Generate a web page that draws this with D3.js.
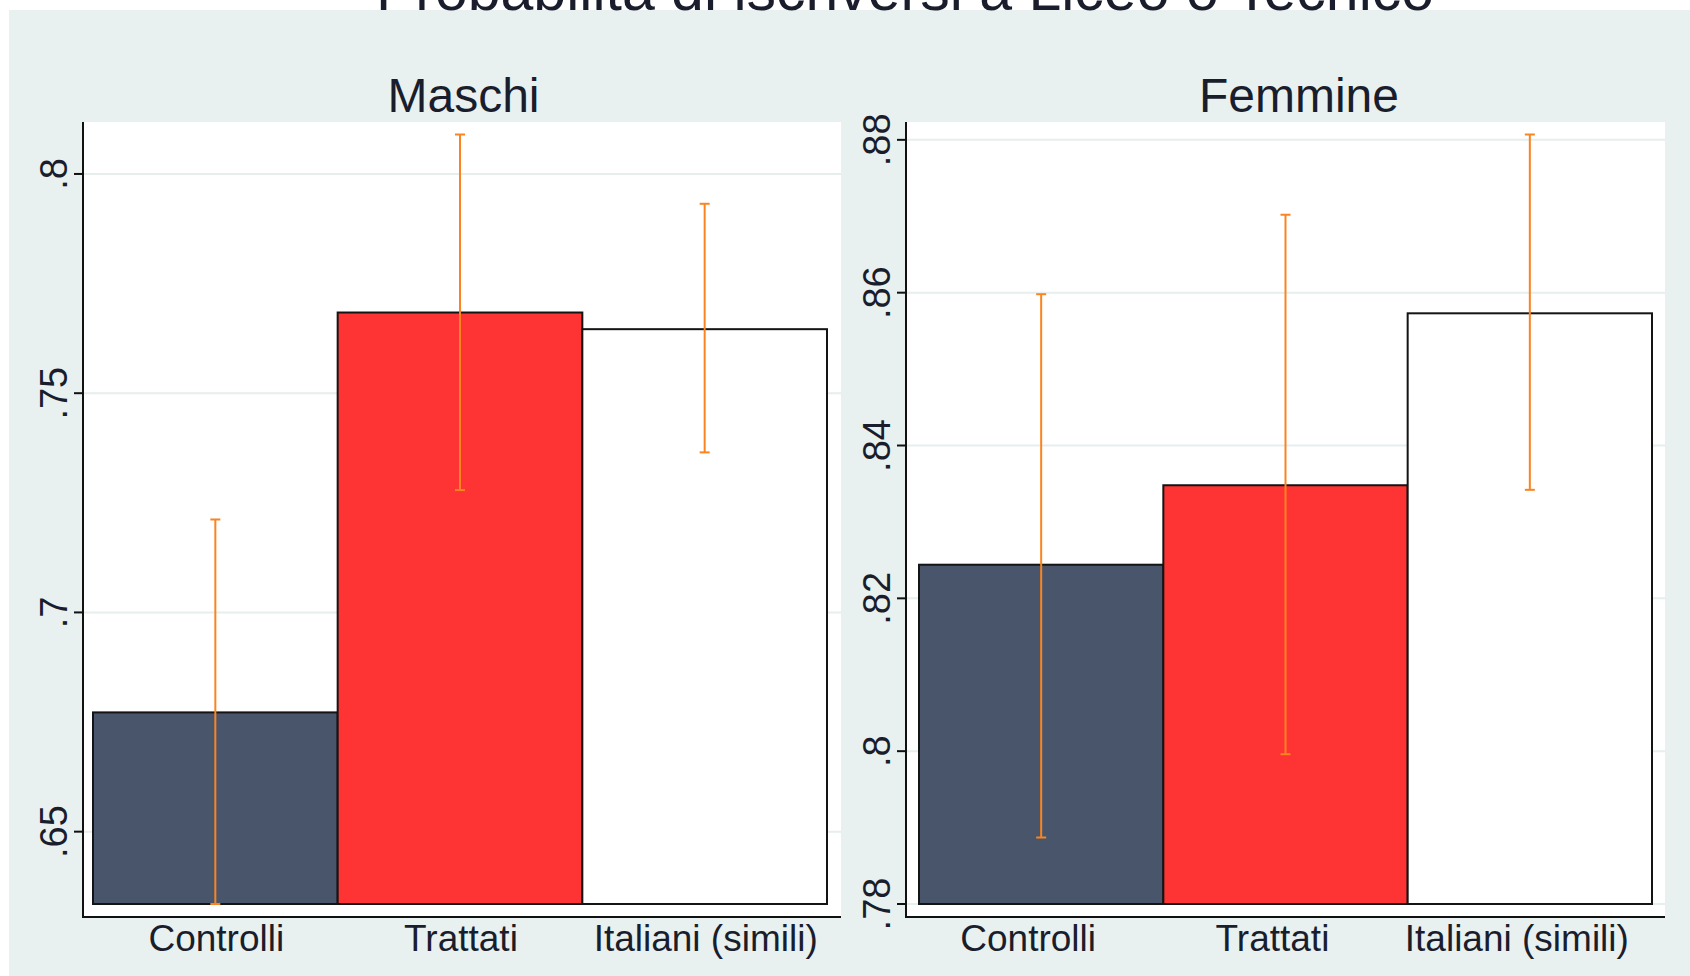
<!DOCTYPE html>
<html>
<head>
<meta charset="utf-8">
<script src="https://cdn.jsdelivr.net/npm/d3@7"></script>
<style>
  body { margin: 0; background: #fff; }
  text { font-family: "Liberation Sans", Arial, sans-serif; fill: #1a1e2c; }
</style>
</head>
<body>
<div id="chart"></div>
<script>
// data
const categories = ["Controlli", "Trattati", "Italiani (simili)"];
const panelTitles = ["Maschi", "Femmine"];

const maschiMean = [0.6772, 0.7684, 0.7646];
const maschiLo = [0.6335, 0.7279, 0.7365];
const maschiHi = [0.7212, 0.8090, 0.7932];
const maschiTicks = [0.65, 0.7, 0.75, 0.8];

const femmineMean = [0.8244, 0.8348, 0.8573];
const femmineLo = [0.7887, 0.7996, 0.8342];
const femmineHi = [0.8598, 0.8702, 0.8807];
const femmineTicks = [0.78, 0.8, 0.82, 0.84, 0.86, 0.88];

const barColors = ["#48556b", "#fe3333", "#ffffff"];
const ciColor = "#fb8420";

const width = 1690, height = 976;

const svg = d3.select("#chart")
  .append("svg")
  .attr("width", width)
  .attr("height", height);

// outer graph region
svg.append("rect")
  .attr("x", 9).attr("y", 10)
  .attr("width", width - 9).attr("height", height - 10)
  .attr("fill", "#e9f1f0");

// main title (cut off at the top in the original)
svg.append("text")
  .attr("x", 905).attr("y", 10)
  .attr("text-anchor", "middle")
  .style("font-size", "59px")
  .text("Probabilità di iscriversi a Liceo o Tecnico");

const panels = [
  { title: panelTitles[0], mean: maschiMean, lo: maschiLo, hi: maschiHi, ticks: maschiTicks,
    x0: 83, x1: 841, padL: 10, padR: 14, titleX: 463.5, labelShift: 1 },
  { title: panelTitles[1], mean: femmineMean, lo: femmineLo, hi: femmineHi, ticks: femmineTicks,
    x0: 906, x1: 1665, padL: 13, padR: 13, titleX: 1299, labelShift: -13 }
];

const plotTop = 122, axisY = 917;
const dataTop = 134.5, dataBottom = 904;
const fmt = v => String(+v.toFixed(2)).replace(/^0/, "");

panels.forEach(p => {
  const g = svg.append("g");

  const y = d3.scaleLinear()
    .domain(d3.extent([...p.lo, ...p.hi, ...p.ticks]))
    .range([dataBottom, dataTop]);

  const x = d3.scaleBand()
    .domain(categories)
    .range([p.x0 + p.padL, p.x1 - p.padR])
    .padding(0);

  // plot region
  g.append("rect")
    .attr("x", p.x0).attr("y", plotTop)
    .attr("width", p.x1 - p.x0).attr("height", axisY - plotTop)
    .attr("fill", "#fff");

  // grid lines
  g.selectAll(".grid")
    .data(p.ticks)
    .join("line")
    .attr("x1", p.x0).attr("x2", p.x1)
    .attr("y1", d => y(d)).attr("y2", d => y(d))
    .attr("stroke", "#e6eeee")
    .attr("stroke-width", 2);

  // bars
  const base = y.domain()[0];
  g.selectAll(".bar")
    .data(categories)
    .join("rect")
    .attr("x", d => x(d))
    .attr("y", (d, i) => y(p.mean[i]))
    .attr("width", x.bandwidth())
    .attr("height", (d, i) => y(base) - y(p.mean[i]))
    .attr("fill", (d, i) => barColors[i])
    .attr("stroke", "#141414")
    .attr("stroke-width", 2);

  // confidence intervals
  const ci = g.selectAll(".ci")
    .data(categories)
    .join("g")
    .attr("transform", d => `translate(${x(d) + x.bandwidth() / 2},0)`);
  ci.append("line")
    .attr("y1", (d, i) => y(p.lo[i])).attr("y2", (d, i) => y(p.hi[i]))
    .attr("stroke", ciColor).attr("stroke-width", 2);
  ci.append("line")
    .attr("x1", -5).attr("x2", 5)
    .attr("y1", (d, i) => y(p.lo[i])).attr("y2", (d, i) => y(p.lo[i]))
    .attr("stroke", ciColor).attr("stroke-width", 2);
  ci.append("line")
    .attr("x1", -5).attr("x2", 5)
    .attr("y1", (d, i) => y(p.hi[i])).attr("y2", (d, i) => y(p.hi[i]))
    .attr("stroke", ciColor).attr("stroke-width", 2);

  // axes
  g.append("line")
    .attr("x1", p.x0).attr("x2", p.x0)
    .attr("y1", plotTop).attr("y2", axisY + 1)
    .attr("stroke", "#111").attr("stroke-width", 2);
  g.append("line")
    .attr("x1", p.x0).attr("x2", p.x1)
    .attr("y1", axisY).attr("y2", axisY)
    .attr("stroke", "#111").attr("stroke-width", 2);

  g.selectAll(".tick")
    .data(p.ticks)
    .join("line")
    .attr("x1", p.x0 - 9).attr("x2", p.x0)
    .attr("y1", d => y(d)).attr("y2", d => y(d))
    .attr("stroke", "#111").attr("stroke-width", 2);

  g.selectAll(".ticklabel")
    .data(p.ticks)
    .join("text")
    .attr("transform", d => `translate(${p.x0 - 16},${y(d)}) rotate(-90)`)
    .attr("text-anchor", "middle")
    .style("font-size", "38px")
    .text(fmt);

  g.selectAll(".catlabel")
    .data(categories)
    .join("text")
    .attr("x", d => x(d) + x.bandwidth() / 2 + p.labelShift)
    .attr("y", 951)
    .attr("text-anchor", "middle")
    .style("font-size", "37px")
    .text(d => d);

  g.append("text")
    .attr("x", p.titleX).attr("y", 112)
    .attr("text-anchor", "middle")
    .style("font-size", "48px")
    .text(p.title);
});
</script>
</body>
</html>
